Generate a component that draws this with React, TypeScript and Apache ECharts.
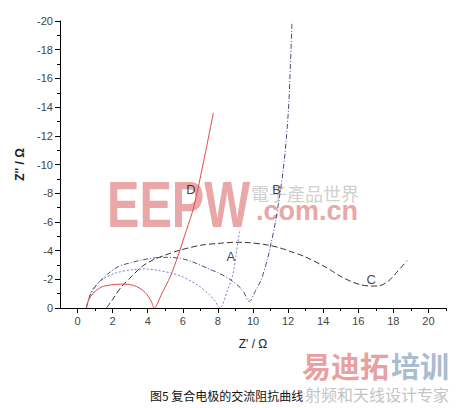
import React, { useEffect, useRef } from "react";
import * as echarts from "echarts";

// Curve D (red, solid)
const curveD: [number, number][] = [
  [0.5, 0], [0.65, -0.6], [0.88, -1.02], [1.2, -1.35], [1.5, -1.52], [1.84, -1.6], [2.2, -1.65], [2.7, -1.67],
  [3.2, -1.57], [3.56, -1.37], [3.85, -1.08], [4.04, -0.79], [4.22, -0.42], [4.37, 0],
  [4.8, -1.0], [5.29, -2.2], [5.77, -3.8], [6.2, -5.4], [6.63, -7.06], [7.2, -10.3], [7.74, -13.6],
];
// Curve A (light blue, dotted)
const curveA: [number, number][] = [
  [0.5, 0], [0.7, -0.9], [1.0, -1.55], [1.5, -2.05], [2.13, -2.42], [3.0, -2.65], [3.85, -2.72],
  [4.6, -2.62], [5.38, -2.42], [5.9, -2.22], [6.5, -1.85], [7.0, -1.45], [7.5, -0.95], [7.8, -0.55], [8.12, 0],
  [8.55, -1.26], [8.83, -2.2], [9.02, -3.58], [9.21, -5.2], [9.25, -5.4],
];
// Curve B (navy, dash-dot)
const curveB: [number, number][] = [
  [0.5, 0], [0.75, -1.0], [1.17, -1.72], [1.7, -2.35], [2.32, -2.88], [3.0, -3.15], [3.66, -3.34],
  [4.3, -3.48], [5.0, -3.53], [5.86, -3.46], [6.53, -3.23], [7.4, -2.77], [8.1, -2.4], [8.74, -1.95],
  [9.4, -1.25], [9.79, -0.44], [10.1, -1.1], [10.46, -1.95], [10.8, -3.3], [11.03, -4.5], [11.28, -6.0],
  [11.51, -7.76], [11.72, -9.6], [11.9, -11.8], [12.05, -14.5], [12.22, -19.9],
];
// Curve C (black, dashed)
const curveC: [number, number][] = [
  [1.65, 0], [2.0, -0.6], [2.51, -1.49], [3.0, -2.1], [3.66, -2.88], [4.3, -3.35], [5.0, -3.69],
  [5.86, -4.04], [7.1, -4.39], [8.0, -4.5], [9.02, -4.58], [9.8, -4.55], [10.84, -4.39], [11.5, -4.2],
  [12.18, -3.92], [12.95, -3.58], [14.1, -2.88], [14.48, -2.6], [15.0, -2.2], [15.63, -1.83],
  [16.2, -1.6], [16.78, -1.53], [17.2, -1.55], [17.74, -1.9], [18.2, -2.5], [18.79, -3.3],
];

const curveLabelNames = ["D", "B", "A", "C"];
const curveLabelPos: [number, number][] = [[6.46, -8.29], [11.35, -8.29], [8.73, -3.62], [16.73, -2.02]];

const xMajorTicks = [0, 2, 4, 6, 8, 10, 12, 14, 16, 18, 20];
const xMinorTicks = [1, 3, 5, 7, 9, 11, 13, 15, 17, 19, 21];

const xTitle = "Z' / Ω";
const yTitle = "Z'' / Ω";
const caption = "图5 复合电极的交流阻抗曲线";

const FONT = "Liberation Sans, Arial, sans-serif";

export default function App() {
  const ref = useRef<HTMLDivElement>(null);
  useEffect(() => {
    if (!ref.current) return;
    const chart = echarts.init(ref.current, null, { renderer: "svg" });
    const lineSeries = (name: string, data: [number, number][], color: string, type: any, z = 3) => ({
      type: "line",
      name,
      data,
      symbol: "none",
      smooth: 0.3,
      z,
      lineStyle: { color, width: 1, type },
    });
    chart.setOption({
      animation: false,
      backgroundColor: "#ffffff",
      grid: { left: 60, right: 12, top: 21, bottom: 100, containLabel: false },
      xAxis: [
        {
          type: "value",
          min: -1,
          max: 21,
          axisLine: { show: true, lineStyle: { color: "#000", width: 1 } },
          axisTick: { show: true, length: 5, customValues: xMajorTicks, lineStyle: { color: "#000" } },
          axisLabel: { customValues: xMajorTicks, color: "#444", fontSize: 11, fontFamily: FONT, margin: 7 },
          splitLine: { show: false },
          name: xTitle,
          nameLocation: "middle",
          nameGap: 30,
          nameTextStyle: { color: "#222", fontSize: 12, fontFamily: FONT },
        },
        {
          type: "value",
          min: -1,
          max: 21,
          position: "bottom",
          axisLine: { show: false },
          axisTick: { show: true, length: 3, customValues: xMinorTicks, lineStyle: { color: "#000" } },
          axisLabel: { show: false },
          splitLine: { show: false },
        },
      ],
      yAxis: {
        type: "value",
        min: -20,
        max: 0,
        interval: 2,
        inverse: true,
        axisLine: { show: true, onZero: false, lineStyle: { color: "#000", width: 1 } },
        axisTick: { show: true, length: 5, lineStyle: { color: "#000" } },
        minorTick: { show: true, splitNumber: 2, length: 3, lineStyle: { color: "#000" } },
        axisLabel: { color: "#444", fontSize: 11, fontFamily: FONT, margin: 7 },
        splitLine: { show: false },
        name: yTitle,
        nameLocation: "middle",
        nameGap: 32,
        nameRotate: 90,
        nameTextStyle: { color: "#222", fontSize: 12, fontWeight: "bold", fontFamily: FONT },
      },
      graphic: [
        { type: "text", z: 0, x: 107, y: 173, scaleX: 0.76, style: { text: "EEPW", font: "900 64px Liberation Sans", fill: "#e9a7a7", align: "left", verticalAlign: "top" } },
        { type: "text", z: 0, x: 251, y: 184, style: { text: "電子產品世界", font: "18px Noto Sans CJK TC", fill: "#d0d0d0", align: "left", verticalAlign: "top" } },
        { type: "text", z: 0, x: 256, y: 197, style: { text: ".com.cn", font: "bold 27px Liberation Sans", fill: "#e9a7a7", align: "left", verticalAlign: "top" } },
        { type: "text", z: 0, x: 302, y: 350, style: { text: "易迪拓", font: "bold 29px Noto Sans CJK SC", fill: "#e8a0a0", align: "left", verticalAlign: "top" } },
        { type: "text", z: 0, x: 391, y: 350, style: { text: "培训", font: "bold 29px Noto Sans CJK SC", fill: "#a9bcd0", align: "left", verticalAlign: "top" } },
        { type: "text", z: 0, x: 305, y: 386, style: { text: "射频和天线设计专家", font: "16px Noto Sans CJK SC", fill: "#c4c4c4", align: "left", verticalAlign: "top" } },
        { type: "text", z: 1, x: 150, y: 389, style: { text: caption, font: "12px Noto Sans CJK SC", fill: "#111", align: "left", verticalAlign: "top" } },
      ],
      series: [
        lineSeries("C", curveC, "#333333", [6, 3]),
        lineSeries("A", curveA, "#7a7ad6", [2, 2]),
        lineSeries("B", curveB, "#4a4a8c", [5, 2, 1, 2]),
        lineSeries("D", curveD, "#e34848", "solid", 4),
        {
          type: "scatter",
          name: "labels",
          z: 5,
          symbolSize: 1,
          itemStyle: { color: "transparent" },
          data: curveLabelPos.map((p, i) => ({ value: p, name: curveLabelNames[i] })),
          label: {
            show: true,
            position: "inside",
            formatter: (p: any) => p.name,
            color: "#111",
            fontSize: 13,
            fontFamily: FONT,
          },
        },
      ],
    });
    return () => chart.dispose();
  }, []);
  return <div ref={ref} style={{ width: 458, height: 408, position: "absolute", left: 0, top: 0 }} />;
}
